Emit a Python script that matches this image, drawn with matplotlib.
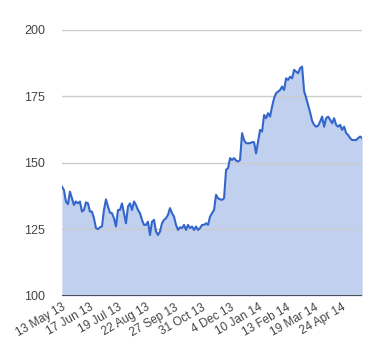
import matplotlib
matplotlib.use("Agg")
import matplotlib.pyplot as plt
import numpy as np

plt.rcParams['font.family'] = ['Liberation Sans', 'DejaVu Sans']

# closing values (one per ~2 trading days)
values = [
    141.1, 139.8, 135.5, 134.5, 139.2, 136.7, 134.2, 135.5, 134.8, 135.5,
    131.7, 132.3, 135.2, 134.8, 131.7, 131.7, 129.2, 125.5, 125.1, 125.8,
    126.1, 132.3, 136.3, 133.6, 131.3, 131.1, 129.2, 126.1, 132.3, 132.3,
    134.8, 131.1, 127.3, 133.6, 134.8, 132.3, 135.5, 134.2, 132.3, 131.1,
    128.6, 126.7, 126.7, 127.9, 122.9, 127.9, 128.6, 124.2, 122.9, 124.2,
    127.3, 128.6, 129.2, 130.5, 133.0, 131.1, 129.8, 126.7, 124.8, 125.8,
    125.5, 126.7, 124.8, 126.7, 125.5, 126.1, 124.8, 126.1, 124.8, 125.5,
    126.7, 126.7, 127.3, 126.7, 129.8, 131.1, 132.3, 138.0, 136.7, 136.3,
    136.1, 136.7, 147.4, 148.0, 151.8, 151.1, 151.8, 150.9, 150.5, 151.1,
    161.2, 158.6, 157.4, 157.4, 157.4, 157.8, 157.8, 153.6, 158.0, 162.4,
    161.8, 168.0, 166.8, 168.7, 167.4, 171.2, 174.3, 176.2, 176.8, 177.4,
    178.7, 177.4, 181.8, 181.2, 182.4, 181.8, 185.0, 184.3, 183.7, 185.6,
    186.2, 177.0, 174.5, 171.8, 169.0, 165.8, 164.3, 163.6, 164.0, 165.5,
    167.4, 163.6, 166.8, 167.4, 166.2, 164.9, 166.8, 164.3, 163.6, 164.3,
    162.4, 163.6, 161.2, 160.5, 159.3, 158.6, 158.6, 158.6, 159.3, 159.9,
    159.3,
]
tick_labels = ["13 May 13", "17 Jun 13", "19 Jul 13", "22 Aug 13", "27 Sep 13",
               "31 Oct 13", "4 Dec 13", "10 Jan 14", "13 Feb 14", "19 Mar 14",
               "24 Apr 14"]
y_ticks = [100, 125, 150, 175, 200]

x = np.arange(len(values))
tick_pos = np.arange(len(tick_labels)) * 14

fig = plt.figure(figsize=(3.8, 3.6), dpi=100)
ax = fig.add_axes([0.163, 0.178, 0.79, 0.739])

ax.fill_between(x, 100, values, color="#3366cc", alpha=0.3, linewidth=0, zorder=1)
for yv in y_ticks[1:]:
    ax.axhline(yv, color="#cccccc", linewidth=1, zorder=1.5)
ax.plot(x, values, color="#3366cc", linewidth=1.5, zorder=3)
ax.axhline(100, color="#333333", linewidth=1.2, zorder=4)

ax.set_xlim(0, len(values) - 1)
ax.set_ylim(100, 200)
ax.set_yticks(y_ticks)
ax.set_xticks(tick_pos)
ax.set_xticklabels(tick_labels, rotation=30, ha="right", rotation_mode="anchor")
ax.tick_params(axis="both", length=0, labelsize=9, colors="#444444")
ax.tick_params(axis="x", labelsize=8.5, pad=4)
ax.tick_params(axis="y", pad=12)
for s in ax.spines.values():
    s.set_visible(False)

plt.savefig("out.png", dpi=100)
